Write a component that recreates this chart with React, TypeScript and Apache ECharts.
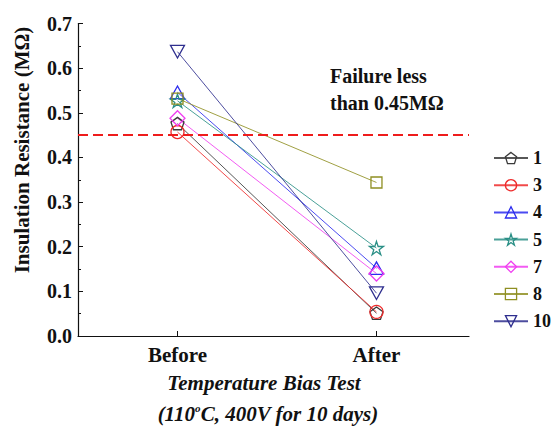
import React, { useEffect, useRef } from "react";
import * as echarts from "echarts";

const categories = ["Before", "After"];
const categoryX = [1, 3];
const seriesNames = ["1", "3", "4", "5", "7", "8", "10"];
const beforeValues = [0.476, 0.457, 0.546, 0.527, 0.488, 0.532, 0.637];
const afterValues = [0.051, 0.054, 0.152, 0.197, 0.14, 0.344, 0.096];
const seriesColors = ["#3a3a3a", "#ee2a2a", "#2b2bee", "#2a8f86", "#f03ef0", "#8f8f22", "#2e2e8e"];
const yTicks = [0, 0.1, 0.2, 0.3, 0.4, 0.5, 0.6, 0.7];
const threshold = 0.45;

const PENTAGON = "path://M0,-1 L0.951,-0.309 L0.588,0.809 L-0.588,0.809 L-0.951,-0.309 Z";
const STAR =
  "path://M0,-1 L0.2245,-0.309 L0.951,-0.309 L0.363,0.118 L0.588,0.809 L0,0.382 L-0.588,0.809 L-0.363,0.118 L-0.951,-0.309 L-0.2245,-0.309 Z";
const TRI_DOWN = "path://M-1,-0.9 L1,-0.9 L0,0.9 Z";
const TRI_UP = "path://M-1,0.9 L1,0.9 L0,-0.9 Z";
const symbols = [PENTAGON, "circle", TRI_UP, STAR, "diamond", "rect", TRI_DOWN];
const symbolSizes = [13, 13, 14, 14, 15, 11, 14];

const FONT = "'Liberation Serif', 'Times New Roman', serif";
const CLEAR = "rgba(255,255,255,0)";

export default function App() {
  const ref = useRef<HTMLDivElement>(null);
  useEffect(() => {
    if (!ref.current) return;
    const chart = echarts.init(ref.current, null, { renderer: "svg" });
    const series: any[] = seriesNames.map((name, i) => ({
      name,
      type: "line",
      data: [
        [categoryX[0], beforeValues[i]],
        [categoryX[1], afterValues[i]],
      ],
      symbol: symbols[i],
      symbolSize: symbolSizes[i],
      symbolKeepAspect: true,
      showAllSymbol: true,
      lineStyle: { color: seriesColors[i], width: 1, opacity: 0.85 },
      itemStyle: { color: CLEAR, borderColor: seriesColors[i], borderWidth: 1.3 },
      emphasis: { disabled: true },
      z: 3,
    }));
    series[0].markLine = {
      silent: true,
      symbol: ["none", "none"],
      label: { show: false },
      lineStyle: { color: "#ee1c1c", type: [10, 5], width: 2 },
      data: [{ yAxis: threshold }],
      animation: false,
    };
    chart.setOption({
      animation: false,
      backgroundColor: "#ffffff",
      grid: { left: 78, right: 85, top: 23.6, bottom: 95, containLabel: false },
      xAxis: {
        type: "value",
        min: 0,
        max: 3.93,
        axisLine: { show: true, lineStyle: { color: "#111", width: 1.2 } },
        axisTick: { show: true, inside: true, length: 5, customValues: categoryX, lineStyle: { color: "#111" } },
        axisLabel: {
          customValues: categoryX,
          formatter: (v: number) => categories[categoryX.indexOf(v)] ?? "",
          fontFamily: FONT,
          fontWeight: "bold",
          fontSize: 21,
          color: "#111",
          margin: 8,
        },
        splitLine: { show: false },
      },
      yAxis: {
        type: "value",
        min: 0,
        max: 0.7,
        interval: 0.1,
        axisLine: { show: true, lineStyle: { color: "#111", width: 1.2 } },
        axisTick: { show: true, inside: true, length: 5, lineStyle: { color: "#111" } },
        minorTick: { show: true, splitNumber: 2, length: 3, lineStyle: { color: "#111" } },
        axisLabel: {
          formatter: (v: number) => (yTicks.some((t) => Math.abs(t - v) < 1e-9) ? v.toFixed(1) : ""),
          fontFamily: FONT,
          fontWeight: "bold",
          fontSize: 20,
          color: "#111",
          margin: 6,
        },
        splitLine: { show: false },
      },
      legend: {
        orient: "vertical",
        left: 493,
        top: 149,
        padding: 0,
        itemWidth: 34,
        itemHeight: 14,
        itemGap: 9.2,
        data: seriesNames.map((name, i) => ({
          name,
          itemStyle: { color: CLEAR, borderColor: seriesColors[i], borderWidth: 1.3 },
        })),
        textStyle: { fontFamily: FONT, fontWeight: "bold", fontSize: 18, color: "#111", lineHeight: 18 },
        selectedMode: false,
      },
      graphic: [
        {
          type: "text",
          x: 22,
          y: 150,
          rotation: Math.PI / 2,
          style: {
            text: "Insulation Resistance (MΩ)",
            fontFamily: FONT,
            fontWeight: "bold",
            fontSize: 21,
            fill: "#111",
            textAlign: "center",
            textVerticalAlign: "middle",
          },
        },
        {
          type: "text",
          x: 330,
          y: 62,
          style: {
            text: "Failure less\nthan 0.45MΩ",
            fontFamily: FONT,
            fontWeight: "bold",
            fontSize: 20,
            lineHeight: 27,
            fill: "#111",
            textAlign: "left",
            textVerticalAlign: "top",
          },
        },
        {
          type: "text",
          x: 264,
          y: 383,
          style: {
            text: "Temperature Bias Test",
            fontFamily: FONT,
            fontWeight: "bold",
            fontStyle: "italic",
            fontSize: 21,
            fill: "#111",
            textAlign: "center",
            textVerticalAlign: "middle",
          },
        },
        {
          type: "text",
          x: 268,
          y: 414,
          style: {
            text: "{a|(110}{s|o}{a|C, 400V for 10 days)}",
            textAlign: "center",
            textVerticalAlign: "middle",
            rich: {
              a: { fontFamily: FONT, fontWeight: "bold", fontStyle: "italic", fontSize: 21, fill: "#111", lineHeight: 24 },
              s: { fontFamily: FONT, fontWeight: "bold", fontStyle: "italic", fontSize: 11, fill: "#111", lineHeight: 24, verticalAlign: "top" },
            },
          },
        },
      ],
      series,
    });
    return () => chart.dispose();
  }, []);
  return (
    <div
      ref={ref}
      style={{ position: "fixed", left: 0, top: 0, width: 554, height: 431, background: "#fff" }}
    />
  );
}
